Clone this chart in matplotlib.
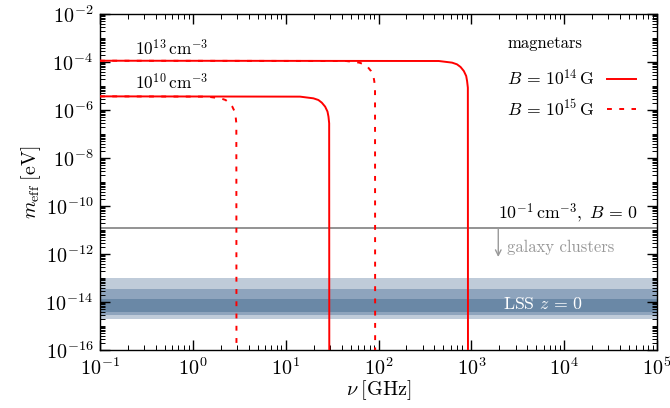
import numpy as np
import matplotlib
matplotlib.use("Agg")
from matplotlib import pyplot as plt
from matplotlib import ticker

plt.rcParams["font.family"] = "serif"
plt.rcParams["font.serif"] = ["cmr10"]
plt.rcParams["mathtext.fontset"] = "cm"
plt.rcParams["axes.formatter.use_mathtext"] = True
plt.rcParams["axes.unicode_minus"] = True

# curves: (frequency in GHz, effective mass in eV)
nu_n10_B14 = [0.1, 14.3, 19.9, 22.5, 24.5, 26.6, 28.2, 28.9, 29.4, 29.5]
m_n10_B14 = [3.7e-6, 3.6e-6, 3.06e-6, 2.61e-6, 2.02e-6, 1.38e-6, 8.6e-7, 5.3e-7, 2.8e-7, 1e-17]

nu_n10_B15 = [0.1, 1.43, 1.99, 2.25, 2.45, 2.66, 2.82, 2.89, 2.94, 2.95]
m_n10_B15 = [3.7e-6, 3.6e-6, 3.06e-6, 2.61e-6, 2.02e-6, 1.38e-6, 8.6e-7, 5.3e-7, 2.8e-7, 1e-17]

nu_n13_B14 = [0.1, 446, 620, 700, 765, 830, 880, 900, 917, 920]
m_n13_B14 = [1.13e-4, 1.1e-4, 9.4e-5, 8.0e-5, 6.2e-5, 4.2e-5, 2.6e-5, 1.6e-5, 8.5e-6, 1e-17]

nu_n13_B15 = [0.1, 44.6, 62, 70, 76.5, 83, 88, 90, 91.7, 92]
m_n13_B15 = [1.13e-4, 1.1e-4, 9.4e-5, 8.0e-5, 6.2e-5, 4.2e-5, 2.6e-5, 1.6e-5, 8.5e-6, 1e-17]

# unmagnetised plasma, 0.1 cm^-3
m_cluster = 1.17e-11

# LSS bands (low, high) in eV, outer to inner
lss_bands = [(1.9e-15, 1.0e-13), (2.9e-15, 3.5e-14), (3.8e-15, 1.33e-14)]
lss_colors = ["#bfcbd9", "#8ea4bd", "#6a88a6"]

red = "#ff0000"
dash = (2.5, 3.8)


def main():
    fig = plt.figure(figsize=(6.7, 4.08), dpi=100)
    ax = fig.add_axes([0.1493, 0.1422, 0.9806 - 0.1493, 0.9657 - 0.1422])

    for (lo, hi), c in zip(lss_bands, lss_colors):
        ax.axhspan(lo, hi, color=c, lw=0, zorder=1)

    ax.axhline(m_cluster, color="#808080", lw=1.2, zorder=2)

    ax.plot(nu_n10_B14, m_n10_B14, color=red, lw=1.4, zorder=3,
            label=r"$B\,=\,10^{14}\,\mathrm{G}$")
    ax.plot(nu_n13_B14, m_n13_B14, color=red, lw=1.4, zorder=3)
    ax.plot(nu_n10_B15, m_n10_B15, color=red, lw=1.4, dashes=dash, zorder=4,
            label=r"$B\,=\,10^{15}\,\mathrm{G}$")
    ax.plot(nu_n13_B15, m_n13_B15, color=red, lw=1.4, dashes=dash, zorder=4)

    ax.set_xscale("log")
    ax.set_yscale("log")
    ax.set_xlim(0.1, 1e5)
    ax.set_ylim(1e-16, 1e-2)

    ax.xaxis.set_major_locator(ticker.LogLocator(base=10, numticks=20))
    ax.xaxis.set_minor_locator(ticker.LogLocator(base=10, subs=np.arange(2, 10), numticks=100))
    ax.yaxis.set_major_locator(ticker.LogLocator(base=100, numticks=20))
    ax.yaxis.set_minor_locator(ticker.LogLocator(base=10, subs=np.arange(1, 10), numticks=300))
    ax.xaxis.set_minor_formatter(ticker.NullFormatter())
    ax.yaxis.set_minor_formatter(ticker.NullFormatter())

    ax.tick_params(which="both", direction="in", top=True, right=True, labelsize=14.5)
    ax.tick_params(which="major", length=7, width=1.0, pad=5)
    ax.tick_params(which="minor", length=3.5, width=0.7)
    for s in ax.spines.values():
        s.set_linewidth(1.0)

    ax.set_xlabel(r"$\nu\;[\mathrm{GHz}]$", fontsize=14.5, labelpad=0)
    ax.set_ylabel(r"$m_{\mathrm{eff}}\;[\mathrm{eV}]$", fontsize=14.5, labelpad=2)

    ax.text(0.238, 1.4e-4, r"$10^{13}\,\mathrm{cm}^{-3}$", fontsize=12.4, va="bottom", ha="left")
    ax.text(0.238, 5.2e-6, r"$10^{10}\,\mathrm{cm}^{-3}$", fontsize=12.4, va="bottom", ha="left")
    ax.text(6.3e4, 1.6e-11, r"$10^{-1}\,\mathrm{cm}^{-3},\;B\,=\,0$", fontsize=12.8,
            va="bottom", ha="right")

    ax.annotate("", xy=(1.95e3, 7.5e-13), xytext=(1.95e3, 1.17e-11),
                arrowprops=dict(arrowstyle="->", color="#999999", lw=1.0, shrinkA=0, shrinkB=0))
    ax.text(2.43e3, 1.95e-12, "galaxy clusters", fontsize=12, color="#999999",
            va="center", ha="left")
    ax.text(5.9e3, 8.3e-15, r"$\mathrm{LSS}\ z\,=\,0$", fontsize=12.8, color="white",
            va="center", ha="center", zorder=5)

    leg = ax.legend(loc="upper left", bbox_to_anchor=(0.731, 0.935), frameon=False,
                    markerfirst=False, title="magnetars", fontsize=12.7,
                    title_fontsize=12, alignment="left", handlelength=1.6,
                    handletextpad=0.7, labelspacing=0.55, borderpad=0, borderaxespad=0)
    leg._legend_box.sep = 12

    fig.savefig("out.png", dpi=100)


if __name__ == "__main__":
    main()
